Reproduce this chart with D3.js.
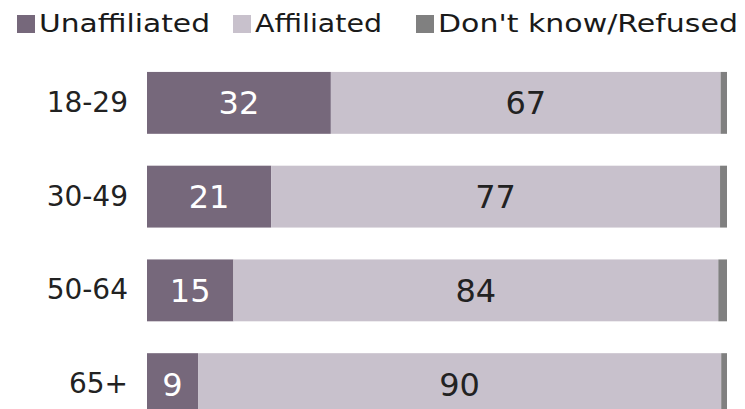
<!DOCTYPE html>
<html>
<head>
<meta charset="utf-8">
<script src="https://cdn.jsdelivr.net/npm/d3@7"></script>
<style>
  html, body { margin: 0; padding: 0; background: #fff; }
  svg { display: block; }
  svg text { font-family: "DejaVu Sans", Verdana, sans-serif; }
</style>
</head>
<body>
<svg id="chart" width="745" height="409"></svg>
<script>
const ages = ["18-29", "30-49", "50-64", "65+"];
const unaffiliated = [31.7, 21.4, 14.9, 8.8];
const affiliated = [67.2, 77.4, 83.6, 90.2];
const dontKnow = [1.1, 1.2, 1.5, 1.0];
const seriesNames = ["Unaffiliated", "Affiliated", "Don't know/Refused"];
const seriesColors = ["#76687b", "#c8c1cc", "#808080"];

const rows = ages.map((a, i) => ({
  age: a,
  Unaffiliated: unaffiliated[i],
  Affiliated: affiliated[i],
  "Don't know/Refused": dontKnow[i]
}));

const svg = d3.select("#chart");
const FONT = "'DejaVu Sans', Verdana, sans-serif";

const x = d3.scaleLinear().domain([0, 100]).range([147, 727]);
const y = d3.scaleBand().domain(ages).range([56, 431]).paddingInner(0.34).paddingOuter(0.17);
const color = d3.scaleOrdinal().domain(seriesNames).range(seriesColors);

const stacked = d3.stack().keys(seriesNames)(rows);

const layers = svg.selectAll(".layer")
  .data(stacked)
  .enter().append("g")
  .attr("class", "layer")
  .attr("fill", d => color(d.key));

layers.selectAll("rect")
  .data(d => d)
  .enter().append("rect")
  .attr("x", d => x(d[0]))
  .attr("y", d => y(d.data.age))
  .attr("width", d => x(d[1]) - x(d[0]))
  .attr("height", y.bandwidth());

// value labels for first two series
stacked.slice(0, 2).forEach((layer, li) => {
  svg.append("g").selectAll("text")
    .data(layer)
    .enter().append("text")
    .attr("x", d => (x(d[0]) + x(d[1])) / 2)
    .attr("y", d => y(d.data.age) + y.bandwidth() / 2)
    .attr("dy", "0.36em")
    .attr("text-anchor", "middle")
    .attr("font-family", FONT)
    .style("font-size", "32px")
    .attr("fill", li === 0 ? "#ffffff" : "#222222")
    .text(d => Math.round(d[1] - d[0]));
});

// category labels
const yAxis = svg.append("g")
  .attr("transform", `translate(${x(0)},0)`)
  .call(d3.axisLeft(y).tickSize(0).tickPadding(19));
yAxis.attr("font-family", FONT);
yAxis.select(".domain").remove();
yAxis.selectAll("text")
  .attr("font-family", FONT)
  .style("font-size", "28px")
  .attr("fill", "#222");

// legend
const legendX = [17, 233, 416];
const legendW = [171, 127, 300];
const legend = svg.append("g").selectAll("g")
  .data(seriesNames)
  .enter().append("g")
  .attr("transform", (d, i) => `translate(${legendX[i]},15)`);
legend.append("rect")
  .attr("width", 18)
  .attr("height", 18)
  .attr("fill", d => color(d));
legend.append("text")
  .attr("x", 22)
  .attr("y", 17)
  .attr("font-family", FONT)
  .style("font-size", "25px")
  .attr("textLength", (d, i) => legendW[i])
  .attr("lengthAdjust", "spacingAndGlyphs")
  .attr("fill", "#1a1a1a")
  .text(d => d);
</script>
</body>
</html>
